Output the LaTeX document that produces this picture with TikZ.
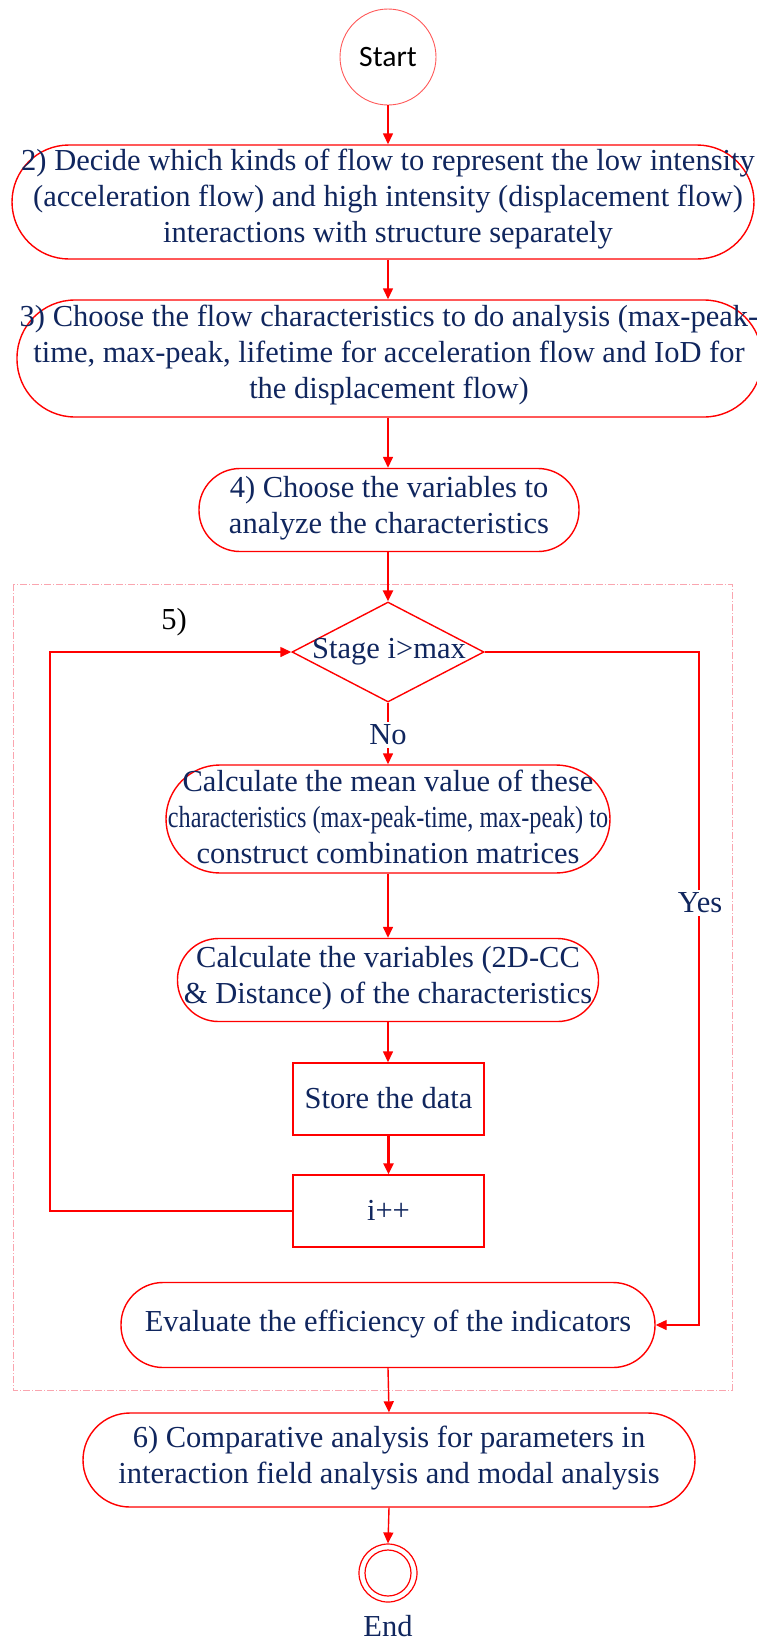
\documentclass[tikz,border=0pt]{standalone}
\usepackage{fontspec}
\usepackage{graphicx}
\setmainfont{Liberation Serif}
\newfontfamily\calfont{Carlito}
\usetikzlibrary{arrows.meta,shapes.geometric}
\definecolor{navy}{RGB}{16,38,94}
\definecolor{framecol}{RGB}{250,165,175}
\begin{document}
\begin{tikzpicture}[x=1pt,y=-1pt,
  line/.style={draw=red, line width=1.4pt},
  arr/.style={line, -{Triangle[length=11pt,width=10pt]}},
  box/.style={line, fill=white, inner sep=0pt},
  stad/.style={box, rounded corners=#1},
  txt/.style={text=navy, align=center, font=\fontsize{30.5}{36}\selectfont, inner sep=0pt},
  frame/.style={draw=framecol, line width=0.8pt, dash pattern=on 7pt off 2pt on 1pt off 2pt},
]
\useasboundingbox (0,0) rectangle (756,1641);

% dashed frame of step 5
\draw[frame] (13,584) rectangle (732,1390);

% start
\node[circle, draw=red!65, line width=0.9pt, minimum size=96pt, inner sep=0pt,
      font=\calfont\fontsize{29.6}{34}\selectfont] (start) at (388,57) {Start};

% box 2
\node[stad=57pt, minimum width=742pt, minimum height=114pt] (b2) at (383,202) {};
\node[txt] (b2t) at (388,199) {2) Decide which kinds of flow to represent the low intensity\\(acceleration flow) and high intensity (displacement flow)\\interactions with structure separately};

% box 3
\node[stad=58pt, minimum width=745pt, minimum height=117pt] (b3) at (389.5,358.5) {};
\node[txt] (b3t) at (389,355) {3) Choose the flow characteristics to do analysis (max-peak-\\time, max-peak, lifetime for acceleration flow and IoD for\\the displacement flow)};

% box 4
\node[stad=41pt, minimum width=380pt, minimum height=83pt] (b4) at (389,510) {};
\node[txt] (b4t) at (389,508) {4) Choose the variables to\\analyze the characteristics};

% step 5 label
\node[txt, text=black] (five) at (174,622) {5)};

% decision
\node[diamond, box, minimum width=192pt, minimum height=100pt] (d) at (388,652) {};
\node[txt] (dt) at (389,652) {Stage i>max};

% mean value box
\node[stad=54pt, minimum width=444pt, minimum height=108pt] (m) at (388,819) {};
\node[txt] (mt) at (388,817) {Calculate the mean value of these\\\scalebox{0.795}[1]{characteristics (max-peak-time, max-peak) to}\\construct combination matrices};

% variables box
\node[stad=41pt, minimum width=421pt, minimum height=83pt] (v) at (388,980) {};
\node[txt] (vt) at (388,978) {Calculate the variables (2D-CC\\\& Distance) of the characteristics};

% store
\node[box, minimum width=191pt, minimum height=72pt] (s) at (388.5,1099) {};
\node[txt] (st) at (388.5,1098) {Store the data};

% i++
\node[box, minimum width=191pt, minimum height=72pt] (p) at (388.5,1211) {};
\node[txt] (pt) at (388.5,1210) {i++};

% evaluate
\node[stad=42pt, minimum width=534pt, minimum height=85pt] (e) at (388,1325) {};
\node[txt] (et) at (388,1324) {Evaluate the efficiency of the indicators};

% box 6
\node[stad=47pt, minimum width=612pt, minimum height=94pt] (b6) at (389,1460) {};
\node[txt] (b6t) at (389,1458) {6) Comparative analysis for parameters in\\interaction field analysis and modal analysis};

% end
\node[circle, draw=red, line width=1.2pt, minimum size=58pt, inner sep=0pt] (endc) at (388,1573) {};
\node[circle, draw=red, line width=1.2pt, minimum size=46pt, inner sep=0pt] (endi) at (388,1573) {};
\node[txt] (endt) at (388,1626) {End};

% connectors
\draw[arr] (start.south) -- (start.south |- b2.north);
\draw[arr] (b2.south -| start.south) -- (b3.north -| start.south);
\draw[arr] (b3.south -| start.south) -- (b4.north -| start.south);
\draw[arr, line width=2.4pt] (b4.south -| start.south) -- (d.north);
\draw[arr] (d.south) -- (m.north);
\node[txt, fill=white, inner sep=3pt] (no) at (388,735) {No};
\draw[arr] (m.south) -- (v.north);
\draw[arr] (v.south) -- (s.north -| v.south);
\draw[arr, line width=2.8pt] (s.south) -- (p.north);
\coordinate (lc) at (50,1211);
\draw[arr] (p.west) -- (lc) |- (d.west);
\coordinate (yc) at (699,652);
\draw[arr] (d.east) -- (yc) |- (e.east);
\node[txt, fill=white, inner sep=3pt] (yes) at (700,903) {Yes};
\draw[arr] (e.south) -- (b6.north);
\draw[arr] (b6.south) -- (endc.north);
\end{tikzpicture}
\end{document}
